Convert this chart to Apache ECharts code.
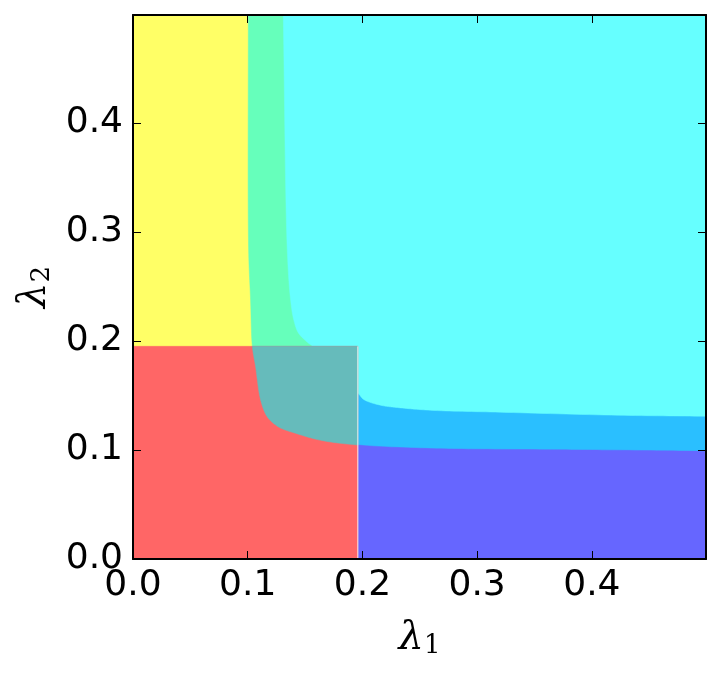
<!DOCTYPE html>
<html>
<head>
<meta charset="utf-8">
<script src="https://cdn.jsdelivr.net/npm/echarts@6/dist/echarts.min.js"></script>
<style>html,body{margin:0;padding:0;background:#fff}#c{width:721px;height:677px}</style>
</head>
<body>
<div id="c"></div>
<script>
// ---- data ----
const axisMax = [0.4995, 0.4988];          // x max, y max
const squareCorner = [0.196, 0.195];        // upper-right corner of the lower-left square
// lower boundary of the upper-right region (left / lower curve)
const curveA = [
  [0.1005, 0.4988], [0.1008, 0.2832], [0.1025, 0.2374], [0.1040, 0.1951],
  [0.1069, 0.1761], [0.1113, 0.1456], [0.1171, 0.1303], [0.1269, 0.1211],
  [0.1417, 0.1153], [0.1635, 0.1089], [0.1960, 0.1045], [0.2593, 0.1013],
  [0.3500, 0.1003], [0.4230, 0.0997], [0.4995, 0.0988]
];
// boundary of the cyan region (inner curve)
const curveB = [
  [0.1310, 0.4988], [0.1345, 0.2832], [0.1374, 0.2374], [0.1402, 0.2190],
  [0.1443, 0.2071], [0.1530, 0.1979], [0.1565, 0.1951], [0.1700, 0.1750],
  [0.1850, 0.1600], [0.1963, 0.1517], [0.2012, 0.1462], [0.2158, 0.1410],
  [0.2303, 0.1389], [0.2593, 0.1364], [0.3202, 0.1346], [0.4230, 0.1318],
  [0.4995, 0.1309]
];
const regionNames = ['yellow', 'mint', 'lightBlue', 'cyan', 'blue', 'red', 'teal'];
const regionColors = ['#ffff66', '#66ffbb', '#2abfff', '#66ffff', '#6666ff', '#ff6666', '#66bbbb'];

const [xMax, yMax] = axisMax;
const [sx, sy] = squareCorner;

// centripetal Catmull-Rom drawing of a boundary through its read points (pixel space)
function spline(pts) {
  const n = pts.length, out = [];
  if (n < 3) return pts.slice();
  const P = (i) => {
    if (i < 0) return [2 * pts[0][0] - pts[1][0], 2 * pts[0][1] - pts[1][1]];
    if (i > n - 1) return [2 * pts[n - 1][0] - pts[n - 2][0], 2 * pts[n - 1][1] - pts[n - 2][1]];
    return pts[i];
  };
  const d = (a, b) => Math.max(Math.pow(Math.hypot(b[0] - a[0], b[1] - a[1]), 0.5), 1e-6);
  const lerp = (a, b, ta, tb, t) => {
    const w = (t - ta) / (tb - ta);
    return [a[0] + (b[0] - a[0]) * w, a[1] + (b[1] - a[1]) * w];
  };
  for (let i = 0; i < n - 1; i++) {
    const p0 = P(i - 1), p1 = P(i), p2 = P(i + 1), p3 = P(i + 2);
    const t0 = 0, t1 = t0 + d(p0, p1), t2 = t1 + d(p1, p2), t3 = t2 + d(p2, p3);
    const steps = 16;
    for (let k = 0; k < steps; k++) {
      const t = t1 + (t2 - t1) * k / steps;
      const A1 = lerp(p0, p1, t0, t1, t), A2 = lerp(p1, p2, t1, t2, t), A3 = lerp(p2, p3, t2, t3, t);
      const B1 = lerp(A1, A2, t0, t2, t), B2 = lerp(A2, A3, t1, t3, t);
      out.push(lerp(B1, B2, t1, t2, t));
    }
  }
  out.push(pts[n - 1]);
  return out;
}

function regionPixels(name, api) {
  const c = (p) => api.coord(p);
  const A = spline(curveA.map(c));
  const B = spline(curveB.map(c));
  const o = c([0, 0]), tr = c([xMax, yMax]), sq = c([sx, sy]);
  switch (name) {
    case 'yellow': return [o, [tr[0], o[1]], tr, [o[0], tr[1]]];
    case 'mint': return A.concat([tr]);
    case 'lightBlue': return [[sq[0], o[1]], [tr[0], o[1]], tr, [sq[0], tr[1]]];
    case 'cyan': return B.concat([tr]);
    case 'blue': {
      const part = A.filter(p => p[0] >= sq[0]);
      return [[sq[0], o[1]], [sq[0], part[0][1]]].concat(part, [[tr[0], o[1]]]);
    }
    case 'red': return [o, [sq[0], o[1]], sq, [o[0], sq[1]]];
    case 'teal': {
      const part = A.filter(p => p[0] <= sq[0] && p[1] >= sq[1]);
      return [[part[0][0], sq[1]]].concat(part, [[sq[0], part[part.length - 1][1]], sq]);
    }
  }
}

const regionSeries = regionNames.map((name, i) => ({
  type: 'custom',
  name: name,
  coordinateSystem: 'cartesian2d',
  clip: true,
  silent: true,
  z: 2 + i * 0.01,
  data: [0],
  renderItem: function (params, api) {
    return {
      type: 'polygon',
      shape: { points: regionPixels(name, api) },
      style: { fill: regionColors[i], stroke: regionColors[i], lineWidth: 0.5 }
    };
  }
}));

const dividerSeries = {
  type: 'custom',
  coordinateSystem: 'cartesian2d',
  silent: true,
  z: 3,
  data: [0],
  renderItem: function (params, api) {
    const a = api.coord([sx, 0]);
    const b = api.coord([sx, sy]);
    return {
      type: 'line',
      shape: { x1: a[0], y1: a[1], x2: b[0], y2: b[1] },
      style: { stroke: '#ffffff', lineWidth: 1, opacity: 0.85 }
    };
  }
};

const labelFmt = v => (Math.abs(v * 10 - Math.round(v * 10)) < 1e-6 ? v.toFixed(1) : '');
const nameRich = {
  l: { fontFamily: 'DejaVu Serif', fontStyle: 'italic', fontSize: 40, color: '#000', verticalAlign: 'bottom', lineHeight: 44 },
  s: { fontFamily: 'DejaVu Serif', fontSize: 26, color: '#000', verticalAlign: 'bottom', lineHeight: 34 }
};
const frame = { show: true, onZero: false, lineStyle: { color: '#000', width: 2 } };
const ticks = { show: true, inside: true, length: 8, lineStyle: { color: '#000', width: 1 } };

function mkAxis(dim, pos, max, main) {
  const ax = {
    type: 'value', min: 0, max: max, interval: 0.1, position: pos, z: 10,
    axisLine: frame, axisTick: ticks, splitLine: { show: false },
    axisLabel: main ? {
      show: true, formatter: labelFmt, fontSize: 36, fontFamily: 'DejaVu Sans',
      color: '#000', margin: dim === 'x' ? 9 : 10, showMaxLabel: false
    } : { show: false }
  };
  if (main) {
    ax.name = dim === 'x' ? '{l|λ}{s|1}' : '{l|λ}{s|2}';
    ax.nameLocation = 'middle';
    ax.nameGap = dim === 'x' ? 56 : 72;
    ax.nameTextStyle = { rich: nameRich };
  }
  return ax;
}

const chart = echarts.init(document.getElementById('c'), null, { renderer: 'canvas' });
chart.setOption({
  animation: false,
  backgroundColor: '#fff',
  grid: { left: 133, right: 15, top: 15, bottom: 118, containLabel: false },
  xAxis: [mkAxis('x', 'bottom', xMax, true), mkAxis('x', 'top', xMax, false)],
  yAxis: [mkAxis('y', 'left', yMax, true), mkAxis('y', 'right', yMax, false)],
  series: regionSeries.concat([dividerSeries])
});
</script>
</body>
</html>
